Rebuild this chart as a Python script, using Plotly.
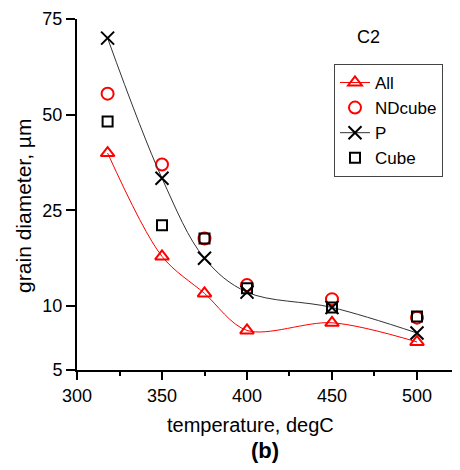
import numpy as np
import plotly.graph_objects as go

# ---- data ----
temperature = [318, 350, 375, 400, 450, 500]
all_vals = [40.0, 17.8, 12.0, 8.1, 8.7, 7.2]
ndcube_vals = [55.5, 37.0, 20.6, 13.3, 11.1, 9.1]
p_vals = [70.0, 33.4, 17.5, 12.2, 9.9, 7.9]
cube_vals = [48.2, 22.7, 20.6, 12.8, 9.9, 9.2]

y_tick_labels = [5, 10, 25, 50, 75]
x_tick_labels = [300, 350, 400, 450, 500]

# The y axis of the original uses an irregular scale: ticks 5,10,25,50,75
# sit at axis positions 0,2,5,8,11 (piecewise linear between them).
y_tick_pos = [0, 2, 5, 8, 11]


def yscale(v):
    return np.interp(v, y_tick_labels, y_tick_pos)


FONT = "Liberation Sans, Arial, sans-serif"

fig = go.Figure()

fig.add_trace(go.Scatter(
    x=temperature, y=yscale(all_vals), name="All", mode="lines+markers",
    line=dict(color="red", width=1, shape="spline", smoothing=0.9),
    marker=dict(symbol="triangle-up-open", size=12, color="red",
                line=dict(width=2, color="red")),
))
fig.add_trace(go.Scatter(
    x=temperature, y=yscale(ndcube_vals), name="NDcube", mode="markers",
    marker=dict(symbol="circle-open", size=12, color="red",
                line=dict(width=2, color="red")),
))
fig.add_trace(go.Scatter(
    x=temperature, y=yscale(p_vals), name="P", mode="lines+markers",
    line=dict(color="#333333", width=1, shape="spline", smoothing=1.0),
    marker=dict(symbol="x-thin-open", size=13, color="black",
                line=dict(width=2, color="black")),
))
fig.add_trace(go.Scatter(
    x=temperature, y=yscale(cube_vals), name="Cube", mode="markers",
    marker=dict(symbol="square-open", size=10, color="black",
                line=dict(width=2, color="black")),
))

fig.update_layout(
    width=452, height=462,
    margin=dict(l=69, r=0, t=11, b=100),
    paper_bgcolor="white", plot_bgcolor="white",
    font=dict(family=FONT, size=18, color="black"),
    showlegend=True,
    legend=dict(
        x=0.671, y=0.872, xanchor="left", yanchor="top",
        bgcolor="white", bordercolor="#444444", borderwidth=1,
        font=dict(family=FONT, size=17, color="black"),
        tracegroupgap=0, itemsizing="trace",
    ),
    xaxis=dict(
        range=[300, 525.3], showgrid=False, zeroline=False,
        showline=True, linecolor="black", linewidth=2,
        ticks="outside", ticklen=8, tickwidth=2, tickcolor="black",
        tickvals=x_tick_labels, ticktext=[str(v) for v in x_tick_labels],
        tickfont=dict(family=FONT, size=18),
        minor=dict(tickvals=[325, 375, 425, 475], ticks="outside",
                   ticklen=4, tickwidth=2, tickcolor="black"),
    ),
    yaxis=dict(
        range=[0, 11], showgrid=False, zeroline=False,
        showline=True, linecolor="black", linewidth=2,
        ticks="outside", ticklen=9, tickwidth=2, tickcolor="black",
        tickvals=y_tick_pos, ticktext=[str(v) for v in y_tick_labels],
        tickfont=dict(family=FONT, size=18),
    ),
    annotations=[
        dict(text="temperature, degC", xref="paper", yref="paper",
             x=0.454, y=-0.157, xanchor="center", yanchor="middle",
             showarrow=False, font=dict(family=FONT, size=20)),
        dict(text="<b>(b)</b>", xref="paper", yref="paper",
             x=0.49, y=-0.228, xanchor="center", yanchor="middle",
             showarrow=False, font=dict(family=FONT, size=22)),
        dict(text="grain diameter, µm", xref="paper", yref="paper",
             x=-0.138, y=0.468, xanchor="center", yanchor="middle",
             textangle=-90, showarrow=False, font=dict(family=FONT, size=21)),
        dict(text="C2", xref="paper", yref="paper",
             x=0.760, y=0.949, xanchor="center", yanchor="middle",
             showarrow=False, font=dict(family=FONT, size=18)),
    ],
)

fig.write_html("out.html")
